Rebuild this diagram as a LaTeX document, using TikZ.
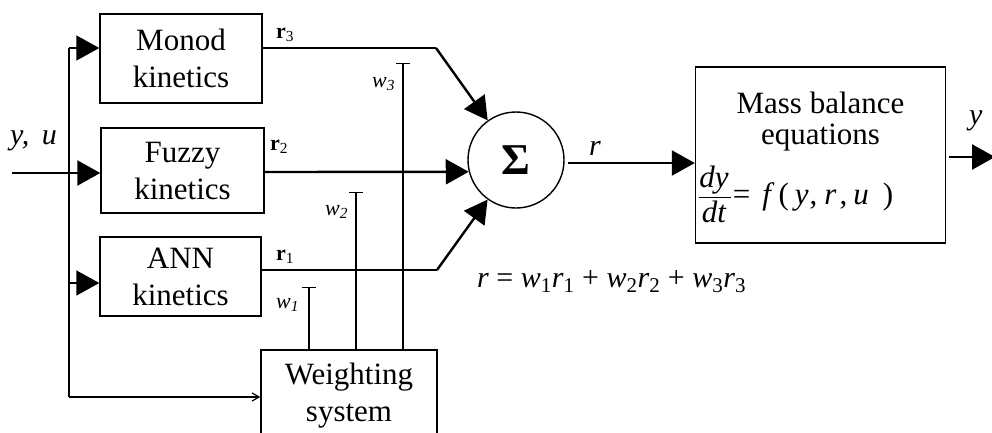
\documentclass[tikz,border=0pt]{standalone}
\usepackage{amsmath}
\usepackage{fontspec}
\setmainfont{Liberation Serif}
\usetikzlibrary{arrows.meta}
\begin{document}
\begin{tikzpicture}[x=1pt,y=-1pt,
  box/.style={draw, line width=1.4pt, inner sep=0pt, align=center,
    font=\fontsize{31}{37}\selectfont},
  thin line/.style={line width=1.4pt},
  thick line/.style={line width=2.4pt},
  bigtip/.style={-{Triangle[length=23pt,width=25pt]}},
  smalltip/.style={-{Straight Barb[length=7pt,width=8pt,line width=1.2pt]}},
  tbar/.style={-{Bar[width=14pt,line width=1.4pt]}, line width=1.4pt},
  lbl/.style={inner sep=0pt, anchor=base west},
  rlab/.style={lbl, font=\fontsize{22}{22}\selectfont\bfseries},
  wlab/.style={lbl, font=\fontsize{22}{22}\selectfont\itshape}]
\clip (0,0) rectangle (992,432);
\fill[white] (0,0) rectangle (992,432);

% blocks
\node[box, minimum width=162pt, minimum height=89pt] (monod) at (181,58.5) {Monod\\kinetics};
\node[box, minimum width=163pt, minimum height=85pt] (fuzzy) at (182.5,170.5) {Fuzzy\\kinetics};
\node[box, minimum width=161pt, minimum height=79pt] (ann) at (180.5,276.5) {ANN\\kinetics};
\node[box, minimum width=176pt, minimum height=92pt] (weight) at (349,396) {Weighting\\system};
\node[draw, circle, line width=1.4pt, minimum size=96pt, inner sep=0pt,
  font=\fontsize{44}{44}\selectfont\bfseries] (sigma) at (516,160) {Σ};
\node[draw, line width=1.4pt, minimum width=250pt, minimum height=176pt, inner sep=0pt] (mass) at (820.5,155) {};
\node[lbl, anchor=base, font=\fontsize{31}{31}\selectfont] (masst1) at (820.5,113) {Mass balance};
\node[lbl, anchor=base, font=\fontsize{31}{31}\selectfont] (masst2) at (820.5,144) {equations};
\node[lbl, font=\fontsize{31}{31}\selectfont] (eq) at (698,204)
  {$\displaystyle\frac{\textit{dy}\hspace{2pt}}{\textit{dt}\hspace{2pt}}$\hspace{1pt}=\hspace{12pt}\textit{f}\hspace{4pt}(\hspace{6pt}\textit{y}\hspace{1pt},\hspace{7pt}\textit{r}\hspace{3pt},\hspace{6pt}\textit{u}\hspace{14pt})};

% free ends
\coordinate (in) at (12,173);
\coordinate (top) at (69,48);
\coordinate (bot) at (69,397);
\coordinate (annin) at (69,283);
\coordinate (k3) at (436,48);
\coordinate (k1) at (437,270);
\coordinate (rs) at (568,163);
\coordinate (yend) at (995,157);

% inputs
\draw[thick line, bigtip] (in) -- (fuzzy.west |- in);
\draw[thin line] (top) -- (bot);
\draw[thin line, bigtip] (top) -- (monod.west |- top);
\draw[thin line, bigtip] (annin) -- (ann.west |- annin);
\draw[thin line, smalltip] (bot) -- (weight.west |- bot);

% kinetics outputs
\draw[line width=1.8pt] (monod.east |- k3) -- (k3);
\draw[thick line, bigtip] (k3) -- (sigma);
\draw[thick line, bigtip] (fuzzy.east |- 0,172) -- (sigma.194.5);
\draw[line width=1.8pt] (ann.east |- k1) -- (k1);
\draw[thick line, bigtip] (k1) -- (sigma);

% weights
\draw[tbar] (309,0 |- weight.north) -- (309,287);
\draw[tbar] (356,0 |- weight.north) -- (356,192);
\draw[tbar] (403,0 |- weight.north) -- (403,63);

% output chain
\draw[thick line, bigtip] (rs) -- (mass.west |- rs);
\draw[thick line, bigtip] (mass.east |- yend) ++(3,0) -- (yend);

% labels
\node[rlab] (l3) at (276,38) {r\textsubscript{\mdseries 3}};
\node[rlab] (l2) at (270,150) {r\textsubscript{\mdseries 2}};
\node[rlab] (l1) at (276,260) {r\textsubscript{\mdseries 1}};
\node[wlab] (lw3) at (372,87) {w\textsubscript{3}};
\node[wlab] (lw2) at (325,215) {w\textsubscript{2}};
\node[wlab] (lw1) at (276,308) {w\textsubscript{1}};
\node[lbl, font=\fontsize{30}{30}\selectfont\itshape] (yu) at (10,144) {y, \,u};
\node[lbl, font=\fontsize{30}{30}\selectfont\itshape] (rl) at (589,155) {r};
\node[lbl, font=\fontsize{30}{30}\selectfont\itshape] (yl) at (969,124) {y};
\node[lbl, font=\fontsize{30}{30}\selectfont] (form) at (477,287)
  {\textit{r} = \textit{w}\textsubscript{1}\textit{r}\textsubscript{1} + \textit{w}\textsubscript{2}\textit{r}\textsubscript{2} + \textit{w}\textsubscript{3}\textit{r}\textsubscript{3}};
\end{tikzpicture}
\end{document}
